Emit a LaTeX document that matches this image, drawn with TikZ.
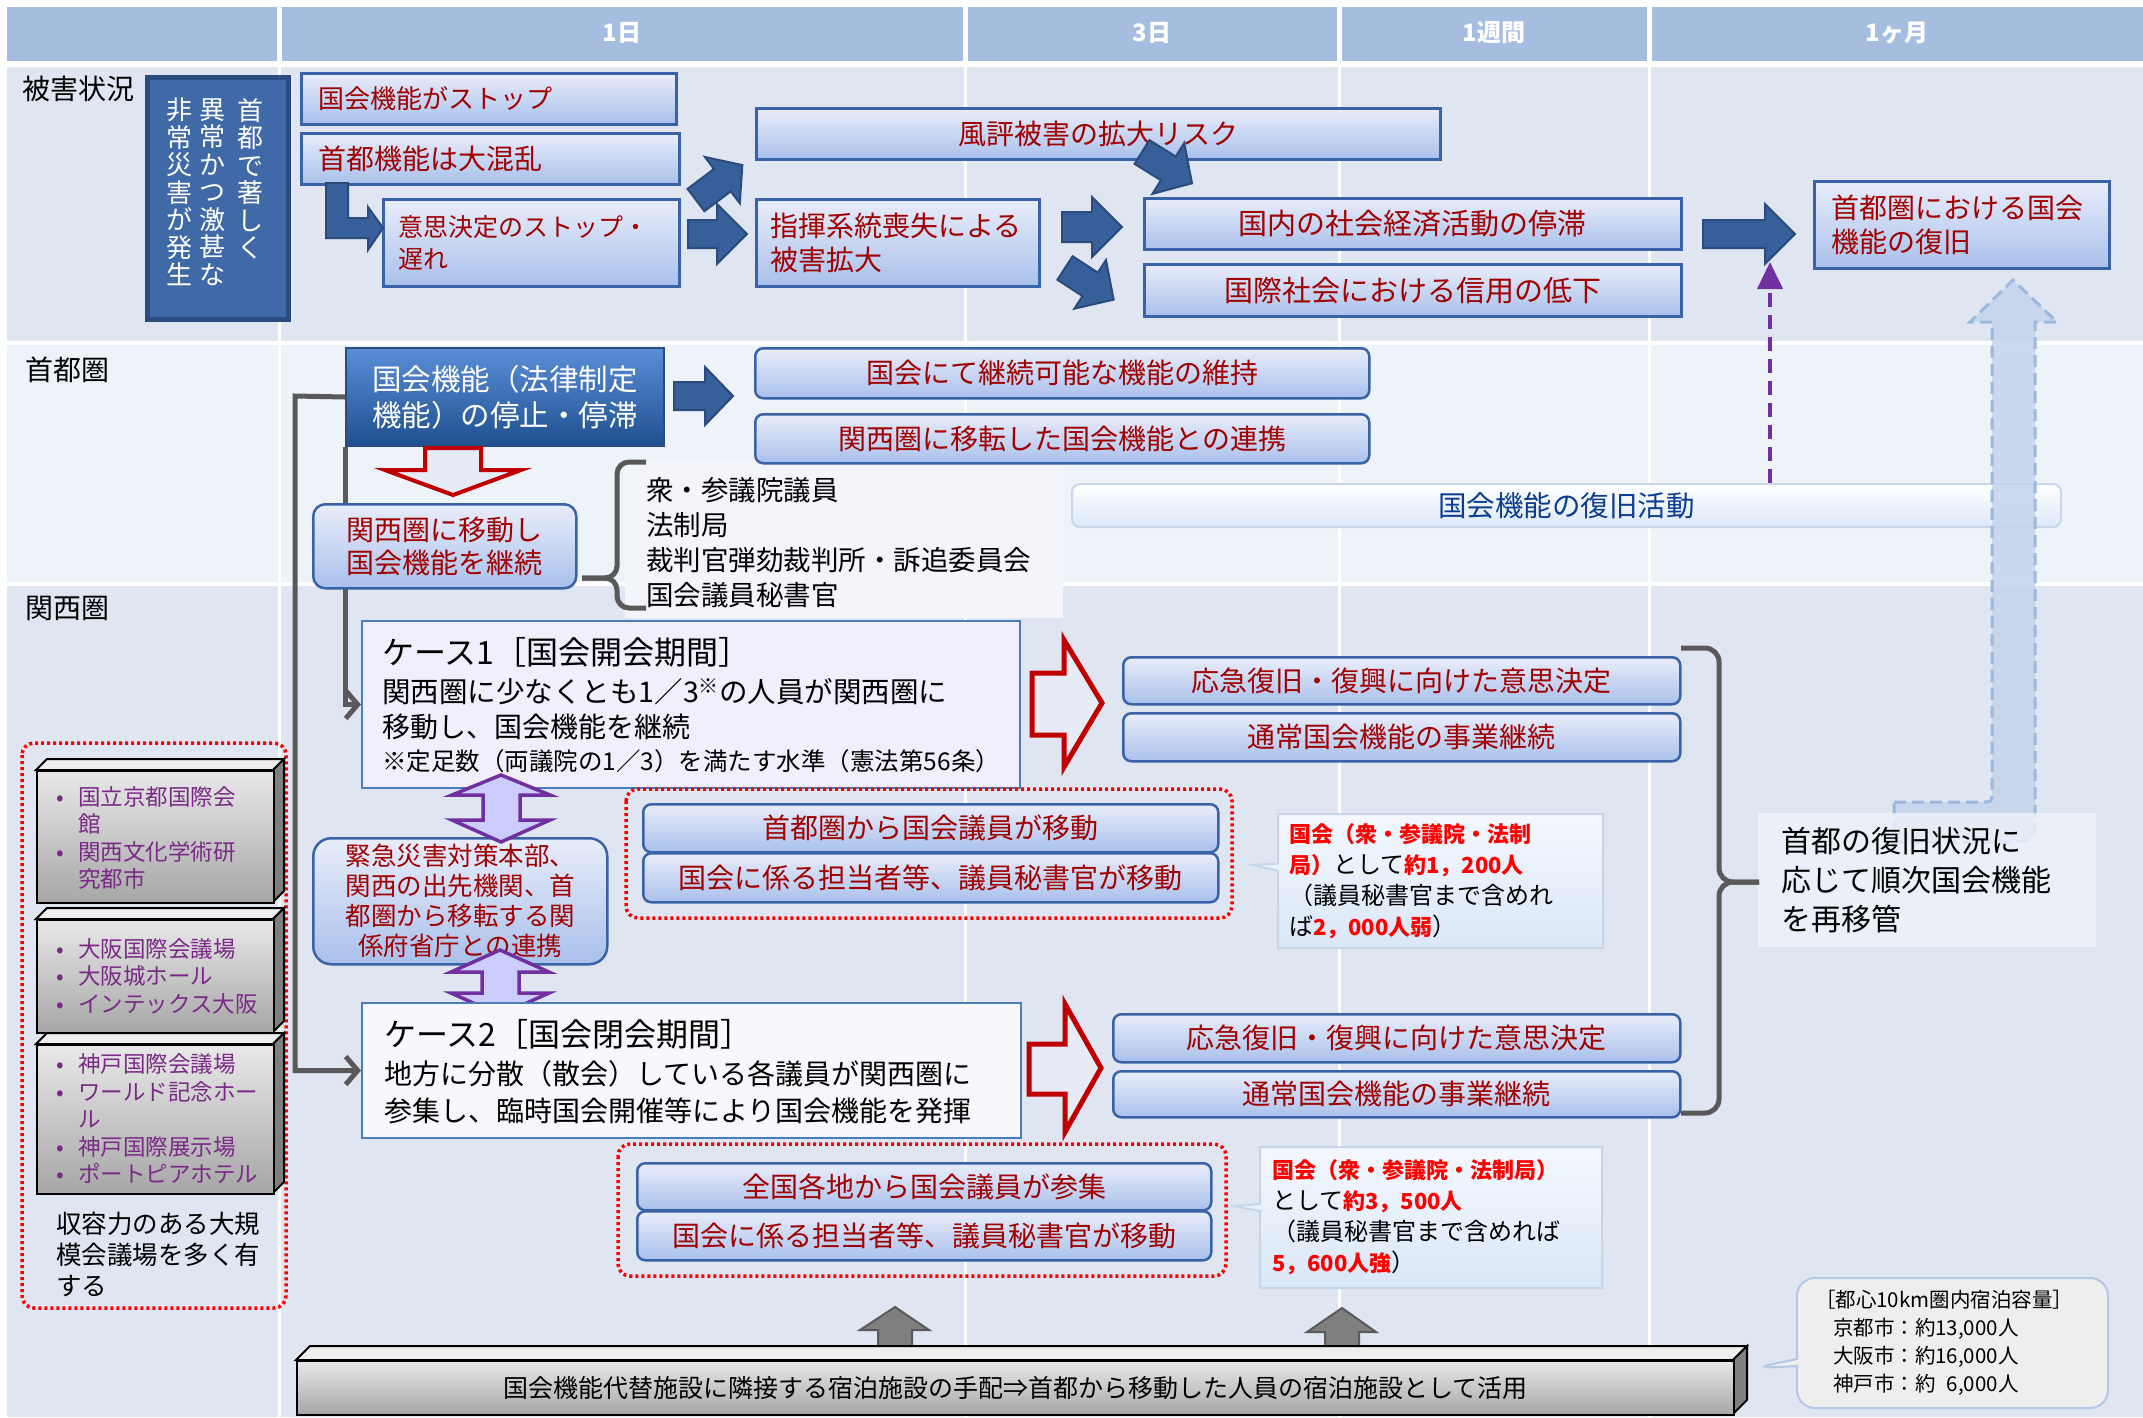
\documentclass[tikz,border=0pt]{standalone}
\usepackage{fontspec}
\setmainfont{Noto Sans CJK JP}
\usetikzlibrary{arrows.meta,shapes.callouts}
\pgfdeclarelayer{back}\pgfdeclarelayer{mid}
\pgfsetlayers{back,mid,main}
\definecolor{hdr}{HTML}{A5BDDF}
\definecolor{rowa}{HTML}{DFE6F2}
\definecolor{rowb}{HTML}{EEF2F9}
\definecolor{gtop}{HTML}{E9EDFA}
\definecolor{gbot}{HTML}{A9C0EB}
\definecolor{bord}{HTML}{3A62A6}
\definecolor{dred}{HTML}{A00000}
\definecolor{cred}{HTML}{FF0000}
\definecolor{navy}{HTML}{3F69A7}
\definecolor{navyb}{HTML}{2B4C7E}
\definecolor{arrb}{HTML}{37609B}
\definecolor{arrbd}{HTML}{2A4B7C}
\definecolor{kta}{HTML}{5A8ED6}
\definecolor{ktb}{HTML}{1F4F8F}
\definecolor{gline}{HTML}{595959}
\definecolor{purp}{HTML}{7030A0}
\definecolor{lav}{HTML}{CCCCFF}
\definecolor{casea}{HTML}{F3EEFB}
\definecolor{caseb}{HTML}{F8F7FB}
\definecolor{casebd}{HTML}{4A7EBB}
\definecolor{calt}{HTML}{F4F8FD}
\definecolor{calb}{HTML}{DAE7F8}
\definecolor{calbd}{HTML}{C7D5E9}
\definecolor{fkt}{HTML}{0B3D91}
\definecolor{fkbd}{HTML}{C9D6EA}
\definecolor{fkb}{HTML}{DCE8F9}
\definecolor{ltb}{HTML}{C3D4EB}
\definecolor{ltbd}{HTML}{9CB8DD}
\definecolor{venue}{HTML}{7A2A86}
\definecolor{rfill}{HTML}{E6EBF5}
\definecolor{rbord}{HTML}{C00000}
\definecolor{listbg}{HTML}{F3F5FB}
\definecolor{gtopf}{HTML}{EEEEEE}
\definecolor{gside}{HTML}{7F7F7F}
\definecolor{gfa}{HTML}{E8E8E8}
\definecolor{gfb}{HTML}{A6A6A6}
\definecolor{uparrf}{HTML}{7F7F7F}
\definecolor{bcbd}{HTML}{B4C7E7}
\newcommand\fs[2]{\fontsize{#1}{#2}\selectfont}
\tikzset{
 bbox/.style={draw=bord, line width=2.5pt, top color=gtop, bottom color=gbot, text=dred, inner sep=0pt, font=\fs{28}{34}, align=center},
 rbox/.style={bbox, rounded corners=8pt},
 sz/.style 2 args={minimum width=#1pt, minimum height=#2pt, anchor=north west},
 lft/.style 2 args={text width=#1pt, inner xsep=#2pt, align=left},
 darr/.style={fill=arrb, draw=arrbd, line width=2pt, line join=miter},
 rarr/.style={fill=rfill, draw=rbord, line width=5pt, line join=miter},
 parr/.style={fill=lav, draw=purp, line width=3.5pt, line join=miter},
 uparr/.style={fill=uparrf, draw=gline, line width=2pt, line join=miter},
 conn/.style={draw=gline, line width=5pt},
 brc/.style={draw=gline, line width=5pt, rounded corners=12pt},
 dotbox/.style={draw=cred, line width=3.5pt, dash pattern=on 3pt off 3pt, rounded corners=12pt},
 calbox/.style={rectangle callout, draw=calbd, line width=2pt, top color=calt, bottom color=calb, anchor=north west, font=\fs{24}{31}, align=left},
 lbl/.style={anchor=west, inner sep=0pt, font=\fs{28}{32}, text=black},
 hdrtxt/.style={text=white, font=\bfseries\fs{24}{28}, inner sep=0pt},
 ctext/.style={anchor=west, inner sep=0pt, text=black},
 vtxt/.style={anchor=north, inner sep=0pt, text=white, font=\fs{26}{27.5}, align=center},
 venuetxt/.style={anchor=west, inner sep=0pt, text=venue, font=\fs{22.5}{27.5}, align=left},
}
% block arrow: style, x, y, angle, length, shaft hw, head hw, head length
\newcommand\barrow[8]{%
 \begin{scope}[shift={(#2,#3)}, rotate=#4]
 \draw[#1] (0,-#6) -- (#5-#8,-#6) -- (#5-#8,-#7) -- (#5,0) -- (#5-#8,#7) -- (#5-#8,#6) -- (0,#6) -- cycle;
 \end{scope}}
% cuboid: name, x1, y1, x2, y2, depth, text
\newcommand\cuboid[7]{%
 \draw[fill=gtopf, draw=black, line width=2pt, line join=miter] (#2,#3) -- (#2+#6,#3-#6) -- (#4+#6,#3-#6) -- (#4,#3) -- cycle;
 \draw[fill=gside, draw=black, line width=2pt, line join=miter] (#4,#3) -- (#4+#6,#3-#6) -- (#4+#6,#5-#6) -- (#4,#5) -- cycle;
 \node[draw=black, line width=2pt, top color=gfa, bottom color=gfb, inner sep=0pt, anchor=north west,
   minimum width={#4pt-#2pt}, minimum height={#5pt-#3pt}] (#1) at (#2,#3) {#7};}
\newcommand\vb{\makebox[28pt][l]{\makebox[20pt]{•}}}
\newcommand\rb[1]{{\color{cred}\bfseries\fs{22}{31}#1}}
\begin{document}
\begin{tikzpicture}[x=1pt,y=-1pt]
\useasboundingbox (0,0) rectangle (2143,1417);
% ---------- background grid ----------
\begin{pgfonlayer}{back}
\fill[white] (0,0) rectangle (2143,1417);
\fill[hdr] (7,7) rectangle (2143,61);
\fill[rowa] (7,67) rectangle (2143,341);
\fill[rowb] (7,345) rectangle (2143,582);
\fill[rowa] (7,586) rectangle (2143,1417);
\foreach \xx in {279,965,1339,1649} {\draw[white, line width=5pt] (\xx,5) -- (\xx,63);}
\foreach \xx in {279,965,1339,1649} {\draw[white, line width=3pt] (\xx,67) -- (\xx,1417);}
\fill[listbg] (625,462) rectangle (1063,618);
\end{pgfonlayer}
% ---------- header ----------
\node[hdrtxt] (h1) at (622,33) {1日};
\node[hdrtxt] (h2) at (1152,33) {3日};
\node[hdrtxt] (h3) at (1494,33) {1週間};
\node[hdrtxt] (h4) at (1897,33) {1ヶ月};
% ---------- row labels ----------
\node[lbl] (lab1) at (22,89) {被害状況};
\node[lbl] (lab2) at (25,370) {首都圏};
\node[lbl] (lab3) at (25,608) {関西圏};
% ---------- row 1 ----------
\node[draw=navyb, line width=5pt, fill=navy, sz={141}{242}] (dbox) at (145,75) {};
\node[vtxt] (vt1) at (250,98) {首\\都\\で\\著\\し\\く};
\node[vtxt] (vt2) at (212,98) {異\\常\\か\\つ\\激\\甚\\な};
\node[vtxt] (vt3) at (179,98) {非\\常\\災\\害\\が\\発\\生};
\node[bbox, sz={375}{51}, lft={341}{17}, font=\fs{26}{32}] (r1) at (300,72) {国会機能がストップ};
\node[bbox, sz={378}{51}, lft={344}{17}] (r2) at (300,132) {首都機能は大混乱};
\node[bbox, sz={296}{87}, lft={266}{15}, font=\fs{25}{32}] (r3) at (382,198) {意思決定のストップ・\\遅れ};
\node[bbox, sz={684}{51}] (r4) at (755,107) {風評被害の拡大リスク};
\node[bbox, sz={283}{87}, lft={255}{14}] (r5) at (755,198) {指揮系統喪失による\\被害拡大};
\node[bbox, sz={537}{51}, font=\fs{29}{34}] (r6) at (1143,197) {国内の社会経済活動の停滞};
\node[bbox, sz={537}{52}, font=\fs{29}{34}] (r7) at (1143,263) {国際社会における信用の低下};
\node[bbox, sz={295}{87}, lft={261}{17}] (r8) at (1813,180) {首都圏における国会\\機能の復旧};
% elbow arrow r2 -> r3
\draw[darr] (326,183) -- (348,183) -- (348,218) -- (368,218) -- (368,207) -- (383,228) -- (368,250) -- (368,238) -- (326,238) -- cycle;
\barrow{darr}{696}{200}{37}{58}{14}{29}{25}
\barrow{darr}{688}{234}{0}{59}{14}{30}{30}
\barrow{darr}{1062}{227}{0}{60}{15}{30}{30}
\barrow{darr}{1065}{268}{-33}{58}{14}{29}{28}
\barrow{darr}{1142}{152}{-32}{59}{14}{30}{28}
\barrow{darr}{1703}{234}{0}{92}{14}{30}{30}
% ---------- row 2 ----------
\node[draw=navyb, line width=2pt, top color=kta, bottom color=ktb, text=white, font=\fs{29.5}{36}, align=center, inner sep=0pt, sz={318}{98}] (kinou) at (345,347) {国会機能（法律制定\\機能）の停止・停滞};
\barrow{darr}{674}{396}{0}{59}{14}{29}{28}
\node[rbox, sz={614}{50}] (s1) at (754,347) {国会にて継続可能な機能の維持};
\node[rbox, sz={614}{49}] (s2) at (754,413) {関西圏に移転した国会機能との連携};
\draw[rarr, line width=4pt] (425,448) -- (481,448) -- (481,470) -- (521,470) -- (453,495) -- (385,470) -- (425,470) -- cycle;
\node[bbox, rounded corners=12pt, sz={263}{84}, font=\fs{28}{33}] (kansai) at (312,503) {関西圏に移動し\\国会機能を継続};
\draw[brc] (646,462) -- (617,462) -- (617,578) -- (582,578);
\draw[brc] (582,578) -- (617,578) -- (617,608) -- (646,608);
\node[lbl, align=left, font=\fs{27.5}{35}] (members) at (646,542.5) {衆・参議院議員\\法制局\\裁判官弾劾裁判所・訴追委員会\\国会議員秘書官};
\node[draw=fkbd, line width=2pt, rounded corners=8pt, top color=white, bottom color=fkb, text=fkt, font=\fs{28.5}{33}, inner sep=0pt, sz={989}{43}] (fukkatsu) at (1071,483) {国会機能の復旧活動};
\coordinate (ptip) at (1770,262);
\draw[draw=purp, line width=4pt, dash pattern=on 14pt off 8pt, -{Triangle[length=27pt,width=25pt]}] (fukkatsu.north -| ptip) -- (ptip);
% light blue return arrow
\draw[fill=ltb, fill opacity=0.85, draw=ltbd, line width=3pt, dash pattern=on 12pt off 6pt]
 (1894,802) -- (1982,802) .. controls (1992,802) .. (1992,792) -- (1992,322) -- (1970,322) -- (2013,280) -- (2057,322) -- (2035,322) -- (2035,810) .. controls (2035,842) .. (2003,842) -- (1894,842) -- cycle;
\node[fill=rowb, fill opacity=0.8, text opacity=1, text=black, font=\fs{30}{39}, sz={338}{134}, lft={292}{23}] (sai) at (1758,813) {首都の復旧状況に\\応じて順次国会機能\\を再移管};
% ---------- row 3 : case 1 ----------
\node[draw=casebd, line width=2pt, fill=casea, sz={658}{167}] (case1) at (361,620) {};
\node[ctext, font=\fs{32}{36}] (c1a) at (382,652) {ケース1［国会開会期間］};
\node[ctext, font=\fs{28.5}{32}] (c1b) at (382,692) {関西圏に少なくとも1／3\textsuperscript{※}の人員が関西圏に};
\node[ctext, font=\fs{28}{32}] (c1c) at (382,727) {移動し、国会機能を継続};
\node[ctext, font=\fs{24.5}{28}] (c1d) at (382,761) {※定足数（両議院の1／3）を満たす水準（憲法第56条）};
\draw[rarr] (1032,673) -- (1064,673) -- (1064,640) -- (1102,703) -- (1064,767) -- (1064,735) -- (1032,735) -- cycle;
\node[rbox, sz={557}{47}] (o1) at (1122,656) {応急復旧・復興に向けた意思決定};
\node[rbox, sz={557}{48}] (o2) at (1122,712) {通常国会機能の事業継続};
\draw[brc, rounded corners=14pt] (1681,648) -- (1719,648) -- (1719,882) -- (1759,882);
\draw[brc, rounded corners=14pt] (1759,882) -- (1719,882) -- (1719,1113) -- (1681,1113);
\draw[dotbox] (626,789) rectangle (1232,918);
\node[rbox, sz={575}{48}] (m1) at (642,803) {首都圏から国会議員が移動};
\node[rbox, sz={575}{49}] (m2) at (642,852) {国会に係る担当者等、議員秘書官が移動};
\node[calbox, sz={325}{134}, lft={303}{11}, callout absolute pointer={(1253,865)}] (cal1) at (1277,813)
 {\rb{国会（衆・参議院・法制}\\\rb{局）}として\rb{約1，200人}\\（議員秘書官まで含めれ\\ば\rb{2，000人弱}）};
% emergency HQ
\node[bbox, rounded corners=18pt, sz={294}{126}, font=\fs{25.5}{30}] (kinkyu) at (312,837) {緊急災害対策本部、\\関西の出先機関、首\\都圏から移転する関\\係府省庁との連携};
\draw[parr] (501,775) -- (550,795) -- (520,795) -- (520,820) -- (550,820) -- (501,842) -- (452,820) -- (483,820) -- (483,795) -- (452,795) -- cycle;
\draw[parr] (500,950) -- (549,972) -- (519,972) -- (519,993) -- (549,993) -- (500,1015) -- (451,993) -- (482,993) -- (482,972) -- (451,972) -- cycle;
% ---------- case 2 ----------
\node[draw=casebd, line width=2pt, fill=caseb, sz={659}{135}] (case2) at (361,1002) {};
\node[ctext, font=\fs{32}{36}] (c2a) at (384,1034) {ケース2［国会閉会期間］};
\node[ctext, font=\fs{28}{32}] (c2b) at (384,1074) {地方に分散（散会）している各議員が関西圏に};
\node[ctext, font=\fs{28}{32}] (c2c) at (384,1111) {参集し、臨時国会開催等により国会機能を発揮};
\draw[rarr] (1029,1044) -- (1065,1044) -- (1065,1004) -- (1101,1068) -- (1065,1132) -- (1065,1094) -- (1029,1094) -- cycle;
\node[rbox, sz={567}{48}] (o3) at (1112,1013) {応急復旧・復興に向けた意思決定};
\node[rbox, sz={567}{46}] (o4) at (1112,1070) {通常国会機能の事業継続};
\draw[dotbox] (618,1144) rectangle (1226,1276);
\node[rbox, sz={574}{47}] (m3) at (636,1162) {全国各地から国会議員が参集};
\node[rbox, sz={574}{49}] (m4) at (636,1210) {国会に係る担当者等、議員秘書官が移動};
\node[calbox, sz={342}{141}, lft={318}{12}, callout absolute pointer={(1234,1206)}] (cal2) at (1259,1146)
 {\rb{国会（衆・参議院・法制局）}\\として\rb{約3，500人}\\（議員秘書官まで含めれば\\\rb{5，600人強}）};
% ---------- connectors ----------
\begin{pgfonlayer}{mid}
\draw[conn, -{Straight Barb[length=12pt,width=28pt]}] (kinou.south west) |- (case1.west);
\draw[conn, -{Straight Barb[length=12pt,width=28pt]}] (kinou.west) -- (295,396) |- (case2.west);
\end{pgfonlayer}
% ---------- venues ----------
\draw[dotbox] (22,743) rectangle (286,1308);
\cuboid{g1}{36}{770}{273}{902}{11}{}
\cuboid{g2}{36}{919}{273}{1032}{11}{}
\cuboid{g3}{36}{1044}{273}{1193}{11}{}
\node[venuetxt] (v1) at (50,838) {\vb 国立京都国際会\\\hspace*{28pt}館\\\vb 関西文化学術研\\\hspace*{28pt}究都市};
\node[venuetxt] (v2) at (50,976) {\vb 大阪国際会議場\\\vb 大阪城ホール\\\vb インテックス大阪};
\node[venuetxt] (v3) at (50,1119) {\vb 神戸国際会議場\\\vb ワールド記念ホー\\\hspace*{28pt}ル\\\vb 神戸国際展示場\\\vb ポートピアホテル};
\node[lbl, align=left, font=\fs{25.5}{31}] (cap) at (56,1254) {収容力のある大規\\模会議場を多く有\\する};
% ---------- bottom bar ----------
\draw[uparr] (878,1348) -- (878,1330) -- (860,1330) -- (895,1307) -- (929,1330) -- (912,1330) -- (912,1348) -- cycle;
\draw[uparr] (1325,1348) -- (1325,1332) -- (1307,1332) -- (1342,1308) -- (1376,1332) -- (1359,1332) -- (1359,1348) -- cycle;
\cuboid{bar}{296}{1360}{1733}{1414}{14}{\fs{25}{30}国会機能代替施設に隣接する宿泊施設の手配⇒首都から移動した人員の宿泊施設として活用}
\node[rectangle callout, draw=bcbd, line width=2pt, fill=gtopf, rounded corners=18pt, sz={311}{130}, lft={275}{18}, font=\fs{20.5}{28}, callout absolute pointer={(1754,1368)}] (bcal) at (1796,1277)
 {［都心10km圏内宿泊容量］\\\hspace*{18pt}京都市：約13,000人\\\hspace*{18pt}大阪市：約16,000人\\\hspace*{18pt}神戸市：約\phantom{1}6,000人};
\end{tikzpicture}
\end{document}
